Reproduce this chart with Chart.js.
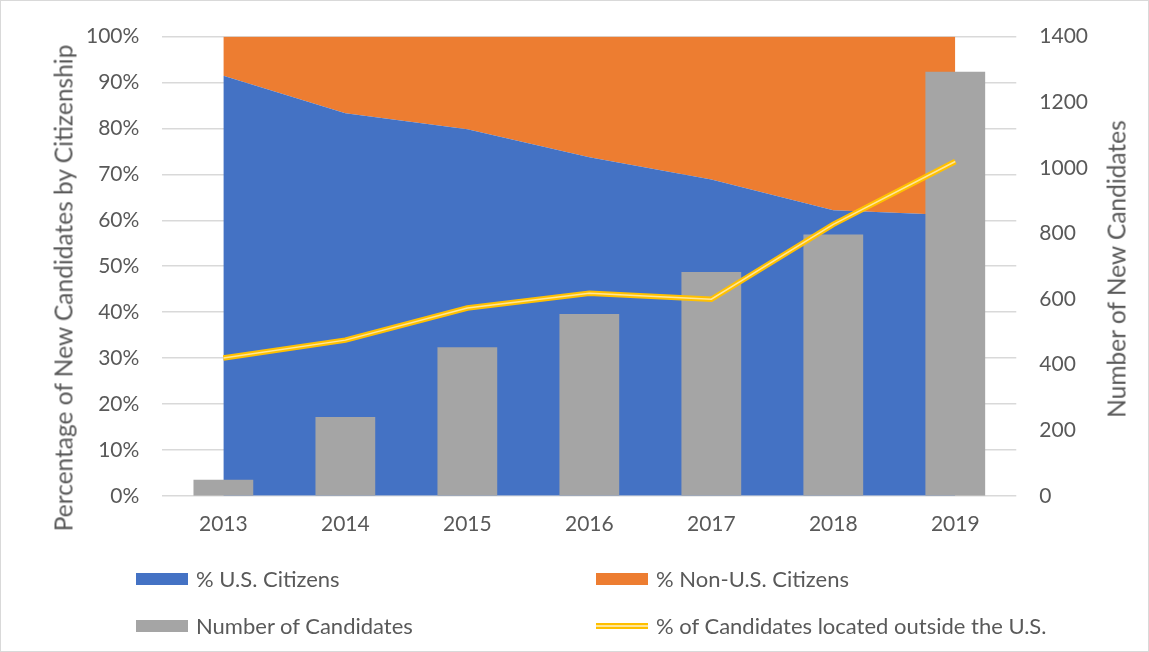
<!DOCTYPE html>
<html>
<head>
<meta charset="utf-8">
<script src="https://cdn.jsdelivr.net/npm/chart.js@4/dist/chart.umd.min.js"></script>
<style>
  body { margin: 0; background: #fff; font-family: Lato, "Noto Sans", sans-serif; }
  #wrap { position: relative; width: 1149px; height: 652px; box-sizing: border-box; border: 1px solid #d9d9d9; }
  #chart { position: absolute; left: 0; top: 0; }
  .axis-title { position: absolute; white-space: nowrap; font-size: 24.5px; color: #595959;
    transform: translate(-50%, -50%) rotate(-90deg); }
  .leg { position: absolute; display: flex; align-items: center; font-size: 22px; color: #595959; }
  .leg .box { width: 52px; height: 12px; margin-right: 8px; }
  .leg .dbl { width: 52px; height: 2px; margin-right: 8px; border-top: 2px solid #FFC000; border-bottom: 2px solid #FFC000; background: #FFE699; }
</style>
</head>
<body>
<div id="wrap">
  <canvas id="chart" width="1149" height="652"></canvas>
  <div class="axis-title" style="left:62px; top:287px;">Percentage of New Candidates by Citizenship</div>
  <div class="axis-title" style="left:1115px; top:268px;">Number of New Candidates</div>
  <div class="leg" style="left:135px; top:564px;"><div class="box" style="background:#4472C4"></div>% U.S. Citizens</div>
  <div class="leg" style="left:595px; top:564px;"><div class="box" style="background:#ED7D31"></div>% Non-U.S. Citizens</div>
  <div class="leg" style="left:135px; top:611px;"><div class="box" style="background:#A5A5A5"></div>Number of Candidates</div>
  <div class="leg" style="left:595px; top:611px;"><div class="dbl"></div>% of Candidates located outside the U.S.</div>
</div>
<script>
// values
const years = ['2013', '2014', '2015', '2016', '2017', '2018', '2019'];
const usCitizens = [91.5, 83.3, 79.8, 73.7, 68.9, 62.2, 61.1];
const nonUsCitizens = [8.5, 16.7, 20.2, 26.3, 31.1, 37.8, 38.9];
const candidates = [49, 240, 453, 554, 682, 797, 1293];
const outsideUS = [30.0, 33.9, 40.9, 44.1, 42.8, 59.1, 72.8];

const textColor = '#595959';
const tickFont = { family: 'Lato', size: 21 };

new Chart(document.getElementById('chart'), {
  type: 'bar',
  data: {
    labels: years,
    datasets: [
      // double gold line: light core drawn over a wider gold stroke
      { type: 'line', label: 'outside', data: outsideUS, yAxisID: 'y', stack: 'l1', order: 0,
        borderColor: '#FFE699', borderWidth: 1.5, pointRadius: 0, fill: false },
      { type: 'line', label: 'outsideBase', data: outsideUS, yAxisID: 'y', stack: 'l2', order: 0.5,
        borderColor: '#FFC000', borderWidth: 5.5, pointRadius: 0, fill: false },
      { type: 'bar', label: 'Number of Candidates', data: candidates, yAxisID: 'y1', order: 1,
        backgroundColor: '#A5A5A5', categoryPercentage: 1, barPercentage: 0.49 },
      { type: 'line', label: '% U.S. Citizens', data: usCitizens, yAxisID: 'y', stack: 'cit', order: 2,
        backgroundColor: '#4472C4', borderWidth: 0, pointRadius: 0, fill: 'origin' },
      { type: 'line', label: '% Non-U.S. Citizens', data: nonUsCitizens, yAxisID: 'y', stack: 'cit', order: 2,
        backgroundColor: '#ED7D31', borderWidth: 0, pointRadius: 0, fill: '-1' }
    ]
  },
  options: {
    responsive: false,
    animation: false,
    layout: { padding: { left: 62, right: 39, top: 22, bottom: 108 } },
    plugins: { legend: { display: false }, tooltip: { enabled: false } },
    scales: {
      x: {
        offset: true,
        grid: { display: false },
        border: { display: false },
        ticks: { color: textColor, font: tickFont, padding: 8 }
      },
      y: {
        position: 'left',
        stacked: true,
        min: 0, max: 100,
        grid: { color: '#d9d9d9', lineWidth: 1.5, drawTicks: false },
        border: { display: false },
        ticks: { stepSize: 10, color: textColor, font: tickFont, padding: 23, callback: v => v + '%' }
      },
      y1: {
        position: 'right',
        min: 0, max: 1400,
        grid: { display: false, drawTicks: false },
        border: { display: false },
        ticks: { stepSize: 200, color: textColor, font: tickFont, padding: 23, callback: v => String(v) }
      }
    }
  }
});
</script>
</body>
</html>
